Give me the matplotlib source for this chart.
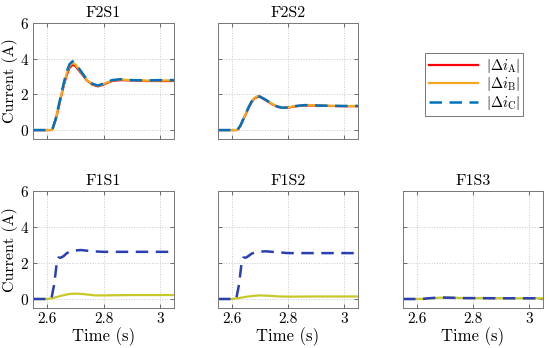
import matplotlib
matplotlib.use("Agg")
import matplotlib.pyplot as plt

plt.rcParams["font.family"] = ["cmr10", "DejaVu Serif"]
plt.rcParams["mathtext.fontset"] = "cm"
plt.rcParams["axes.unicode_minus"] = False
plt.rcParams["axes.formatter.use_mathtext"] = True

# ---- data ----
t_top = [2.55, 2.615, 2.62, 2.63, 2.64, 2.65, 2.66, 2.67, 2.68, 2.69, 2.70,
         2.72, 2.74, 2.76, 2.78, 2.80, 2.83, 2.86, 2.90, 2.95, 3.0, 3.05]

f2s1_a = [0, 0, 0.1, 0.55, 1.2, 1.9, 2.55, 3.1, 3.5, 3.65, 3.6,
          3.2, 2.8, 2.55, 2.45, 2.55, 2.75, 2.8, 2.78, 2.75, 2.75, 2.75]
f2s1_b = [0, 0, 0.1, 0.58, 1.25, 1.95, 2.62, 3.2, 3.6, 3.75, 3.68,
          3.25, 2.82, 2.57, 2.48, 2.58, 2.78, 2.83, 2.8, 2.77, 2.78, 2.78]
f2s1_c = [0, 0, 0.1, 0.6, 1.3, 2.0, 2.7, 3.3, 3.7, 3.85, 3.75,
          3.3, 2.85, 2.6, 2.5, 2.6, 2.8, 2.85, 2.8, 2.78, 2.8, 2.8]

f2s2_a = [0, 0, 0.02, 0.24, 0.58, 0.92, 1.27, 1.57, 1.77, 1.86, 1.85,
          1.68, 1.48, 1.32, 1.24, 1.26, 1.34, 1.38, 1.37, 1.35, 1.34, 1.34]
f2s2_b = [0, 0, 0.02, 0.25, 0.6, 0.95, 1.3, 1.6, 1.8, 1.9, 1.88,
          1.7, 1.5, 1.33, 1.25, 1.27, 1.35, 1.4, 1.38, 1.36, 1.35, 1.35]
f2s2_c = [0, 0, 0.02, 0.25, 0.6, 0.95, 1.3, 1.6, 1.8, 1.9, 1.88,
          1.7, 1.5, 1.33, 1.25, 1.27, 1.35, 1.4, 1.38, 1.36, 1.35, 1.35]

t_bot_c = [2.55, 2.615, 2.625, 2.635, 2.64, 2.65, 2.66, 2.67, 2.69, 2.72,
           2.76, 2.8, 2.9, 3.0, 3.05]
t_bot_b = [2.55, 2.6, 2.62, 2.65, 2.68, 2.70, 2.73, 2.77, 2.8, 2.9, 3.0, 3.05]

f1s1_c = [0, 0, 0.8, 2.1, 2.3, 2.3, 2.4, 2.55, 2.68, 2.72, 2.65, 2.62, 2.62, 2.62, 2.62]
f1s1_b = [0, 0, 0.05, 0.18, 0.28, 0.3, 0.27, 0.2, 0.2, 0.22, 0.22, 0.22]

f1s2_c = [0, 0, 0.8, 2.1, 2.3, 2.3, 2.4, 2.52, 2.62, 2.65, 2.6, 2.55, 2.55, 2.55, 2.55]
f1s2_b = [0, 0, 0.04, 0.12, 0.18, 0.2, 0.18, 0.14, 0.13, 0.14, 0.14, 0.14]

f1s3_c = [0, 0, 0.01, 0.03, 0.04, 0.05, 0.06, 0.07, 0.08, 0.07, 0.05, 0.05, 0.04, 0.04, 0.04]
f1s3_b = [0, 0, 0.01, 0.04, 0.07, 0.08, 0.07, 0.05, 0.05, 0.04, 0.04, 0.04]

titles = ["F2S1", "F2S2", "F1S1", "F1S2", "F1S3"]
xticks = [2.6, 2.8, 3.0]
xtick_labels = ["2.6", "2.8", "3"]
yticks = [0, 2, 4, 6]

red = "#ff0000"
orange = "#f5aa1e"
blue = "#0072bd"
dark_blue = "#2b3fb5"
yellow = "#c8c828"

fig = plt.figure(figsize=(5.5, 3.48), dpi=100)

W, H = 550.0, 348.0
def box(l, t, r, b):
    return [l / W, 1 - b / H, (r - l) / W, (b - t) / H]

axes = [
    fig.add_axes(box(33, 23, 174, 139)),
    fig.add_axes(box(218, 23, 358, 139)),
    fig.add_axes(box(33, 191, 174, 308)),
    fig.add_axes(box(218, 191, 358, 308)),
    fig.add_axes(box(403, 191, 543, 308)),
]

dash = (0, (5, 3))

# top row
ax = axes[0]
ax.plot(t_top, f2s1_a, color=red, lw=1.6, label=r"$|\Delta i_\mathrm{A}|$")
ax.plot(t_top, f2s1_b, color=orange, lw=1.6, label=r"$|\Delta i_\mathrm{B}|$")
ax.plot(t_top, f2s1_c, color=blue, lw=1.8, ls=dash, label=r"$|\Delta i_\mathrm{C}|$")

ax = axes[1]
ax.plot(t_top, f2s2_a, color=red, lw=1.6)
ax.plot(t_top, f2s2_b, color=orange, lw=1.6)
ax.plot(t_top, f2s2_c, color=blue, lw=1.8, ls=dash)

# bottom row
for ax, c, b in zip(axes[2:], [f1s1_c, f1s2_c, f1s3_c], [f1s1_b, f1s2_b, f1s3_b]):
    ax.plot(t_bot_b, b, color=yellow, lw=1.6)
    ax.plot(t_bot_c, c, color=dark_blue, lw=1.8, ls=dash)

for i, ax in enumerate(axes):
    ax.set_xlim(2.55, 3.05)
    ax.set_ylim(-0.5, 6)
    ax.set_xticks(xticks)
    ax.set_yticks(yticks)
    ax.grid(True, ls=":", color="#c8c8c8", lw=0.7)
    ax.tick_params(direction="in", top=True, right=True, length=3,
                   width=0.6, color="#555555", labelsize=11, pad=3)
    for s in ax.spines.values():
        s.set_color("#777777")
        s.set_linewidth(0.7)
    ax.set_title(titles[i], fontsize=11.5, pad=4)
    if i < 2:
        ax.set_xticklabels([])
    else:
        ax.set_xticklabels(xtick_labels)
        ax.set_xlabel("Time (s)", fontsize=12, labelpad=1)
    if i in (0, 2):
        ax.set_ylabel("Current (A)", fontsize=11.5, labelpad=1)
    else:
        ax.set_yticklabels([])

handles, labels = axes[0].get_legend_handles_labels()
leg = fig.legend(handles, labels, loc="upper left",
                 bbox_to_anchor=(425 / W, 1 - 53 / H), fontsize=10.5,
                 frameon=True, fancybox=False, edgecolor="#555555",
                 handlelength=3.4, borderpad=0.25, labelspacing=0.05,
                 handletextpad=0.5, borderaxespad=0)
leg.get_frame().set_linewidth(0.7)

fig.savefig("out.png", dpi=100)
